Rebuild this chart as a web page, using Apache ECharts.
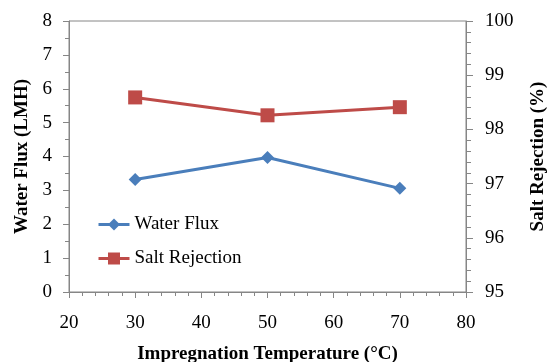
<!DOCTYPE html>
<html><head><meta charset="utf-8">
<script src="https://cdn.jsdelivr.net/npm/echarts@6/dist/echarts.min.js"></script>
<style>html,body{margin:0;padding:0;background:#fff}#c{width:548px;height:362px}</style>
</head><body><div id="c"></div>
<script>
const temperatures = [30, 50, 70];
const waterFlux = [3.32, 3.97, 3.06];
const saltRejection = [98.59, 98.26, 98.41];
const xTitle = 'Impregnation Temperature (°C)';
const yLeftTitle = 'Water Flux (LMH)';
const yRightTitle = 'Salt Rejection (%)';

const axisColor = '#868686';
const font = 'Liberation Serif';
const fs = 19;
const chart = echarts.init(document.getElementById('c'));
function axisCommon() {
  return {
    axisLine: {show: true, lineStyle: {color: axisColor, width: 1}},
    axisTick: {show: true, length: 6, lineStyle: {color: axisColor}},
    splitLine: {show: false},
    nameTextStyle: {color: '#000', fontFamily: font, fontSize: fs, fontWeight: 'bold'}
  };
}
chart.setOption({
  animation: false,
  grid: {left: 69, right: 82, top: 21, bottom: 70, show: true, borderColor: axisColor, borderWidth: 1,
         outerBoundsMode: 'none', containLabel: false},
  legend: {
    orient: 'vertical', left: 97, top: 215, padding: 0, itemWidth: 31, itemHeight: 15, itemGap: 15,
    textStyle: {fontFamily: font, fontSize: fs, color: '#000'},
    lineStyle: {width: 3},
    data: ['Water Flux', 'Salt Rejection']
  },
  xAxis: Object.assign(axisCommon(), {
    type: 'value', min: 20, max: 80, interval: 10,
    minorTick: {show: true, splitNumber: 5, length: 4, lineStyle: {color: axisColor}},
    name: xTitle, nameLocation: 'middle', nameGap: 53,
    axisLabel: {color: '#000', fontFamily: font, fontSize: fs, margin: 22}
  }),
  yAxis: [
    Object.assign(axisCommon(), {
      type: 'value', min: 0, max: 8, interval: 1, position: 'left',
      minorTick: {show: true, splitNumber: 2, length: 4, lineStyle: {color: axisColor}},
      name: yLeftTitle, nameLocation: 'middle', nameGap: 36, nameRotate: 90,
      axisLabel: {color: '#000', fontFamily: font, fontSize: fs, margin: 17}
    }),
    Object.assign(axisCommon(), {
      type: 'value', min: 95, max: 100, interval: 1, position: 'right',
      minorTick: {show: true, splitNumber: 5, length: 5, lineStyle: {color: axisColor}},
      axisTick: {show: true, length: 7, lineStyle: {color: axisColor}},
      name: yRightTitle, nameLocation: 'middle', nameGap: 63, nameRotate: 90,
      axisLabel: {color: '#000', fontFamily: font, fontSize: fs, margin: 19}
    })
  ],
  series: [
    {
      name: 'Water Flux', type: 'line', yAxisIndex: 0,
      data: temperatures.map((t, i) => [t, waterFlux[i]]),
      symbol: 'diamond', symbolSize: 13,
      lineStyle: {color: '#4A7EBB', width: 3},
      itemStyle: {color: '#4A7EBB'}
    },
    {
      name: 'Salt Rejection', type: 'line', yAxisIndex: 1,
      data: temperatures.map((t, i) => [t, saltRejection[i]]),
      symbol: 'rect', symbolSize: 14,
      lineStyle: {color: '#BE4B48', width: 3},
      itemStyle: {color: '#BE4B48'}
    }
  ]
});
</script></body></html>
